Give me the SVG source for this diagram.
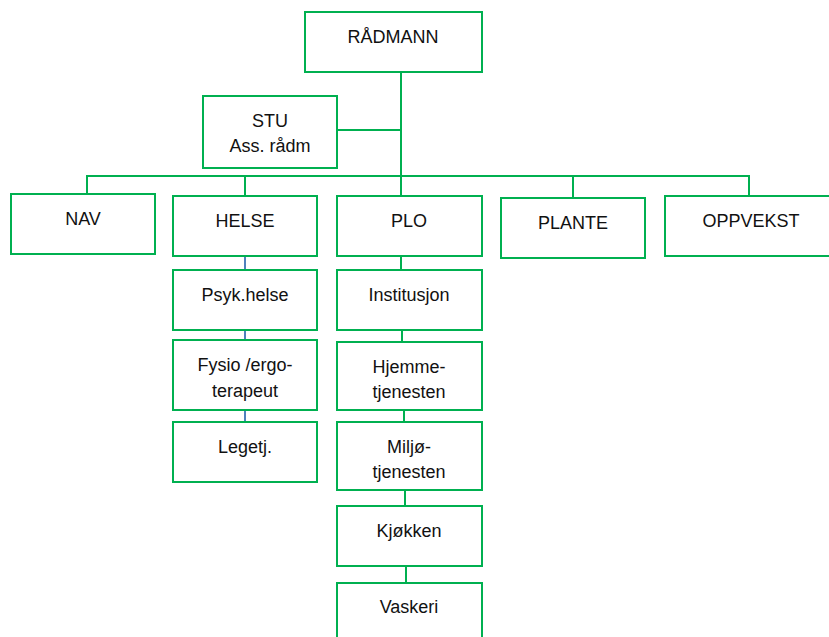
<svg xmlns="http://www.w3.org/2000/svg" width="829" height="637" viewBox="0 0 829 637">
<style>
.box{fill:#fff;stroke:#00B050;stroke-width:2}
.ln{fill:none;stroke:#00B050;stroke-width:2}
.bl{fill:none;stroke:#4F81BD;stroke-width:2}
text{font-family:"Liberation Sans",Arial,sans-serif;font-size:18px;fill:#111;text-anchor:middle}
</style>
<rect width="829" height="637" fill="#fff"/>
<g id="connectors">
<path class="ln" d="M401,72 V196 M337,130 H401 M87,194 V176 H749 V196 M245,176 V196 M573,176 V198"/>
<path class="bl" d="M245,256 V270 M245,330 V340 M245,410 V422"/>
<path class="ln" d="M401,256 V270 M402,330 V342 M404,410 V422 M405,490 V506 M406,566 V583"/>
</g>
<g id="radmann"><rect class="box" x="305" y="12" width="177" height="60"/><text x="393" y="43">RÅDMANN</text></g>
<g id="stu"><rect class="box" x="203" y="96" width="134" height="72"/><text x="270" y="127">STU</text><text x="270" y="152">Ass. rådm</text></g>
<g id="nav"><rect class="box" x="11" y="194" width="144" height="60"/><text x="83" y="225">NAV</text></g>
<g id="helse"><rect class="box" x="173" y="196" width="144" height="60"/><text x="245" y="227">HELSE</text></g>
<g id="plo"><rect class="box" x="337" y="196" width="145" height="60"/><text x="409" y="227">PLO</text></g>
<g id="plante"><rect class="box" x="501" y="198" width="144" height="60"/><text x="573" y="229">PLANTE</text></g>
<g id="oppvekst"><rect class="box" x="665" y="196" width="166" height="60"/><text x="751" y="227">OPPVEKST</text></g>
<g id="psyk"><rect class="box" x="173" y="270" width="144" height="60"/><text x="245" y="301">Psyk.helse</text></g>
<g id="fysio"><rect class="box" x="173" y="340" width="144" height="70"/><text x="245" y="371">Fysio /ergo-</text><text x="245" y="397">terapeut</text></g>
<g id="legetj"><rect class="box" x="173" y="422" width="144" height="60"/><text x="245" y="453">Legetj.</text></g>
<g id="institusjon"><rect class="box" x="337" y="270" width="145" height="60"/><text x="409" y="301">Institusjon</text></g>
<g id="hjemme"><rect class="box" x="337" y="342" width="145" height="68"/><text x="409" y="373">Hjemme-</text><text x="409" y="398">tjenesten</text></g>
<g id="miljo"><rect class="box" x="337" y="422" width="145" height="68"/><text x="409" y="453">Miljø-</text><text x="409" y="478">tjenesten</text></g>
<g id="kjokken"><rect class="box" x="337" y="506" width="145" height="60"/><text x="409" y="537">Kjøkken</text></g>
<g id="vaskeri"><rect class="box" x="337" y="583" width="145" height="70"/><text x="409" y="613">Vaskeri</text></g>
</svg>
